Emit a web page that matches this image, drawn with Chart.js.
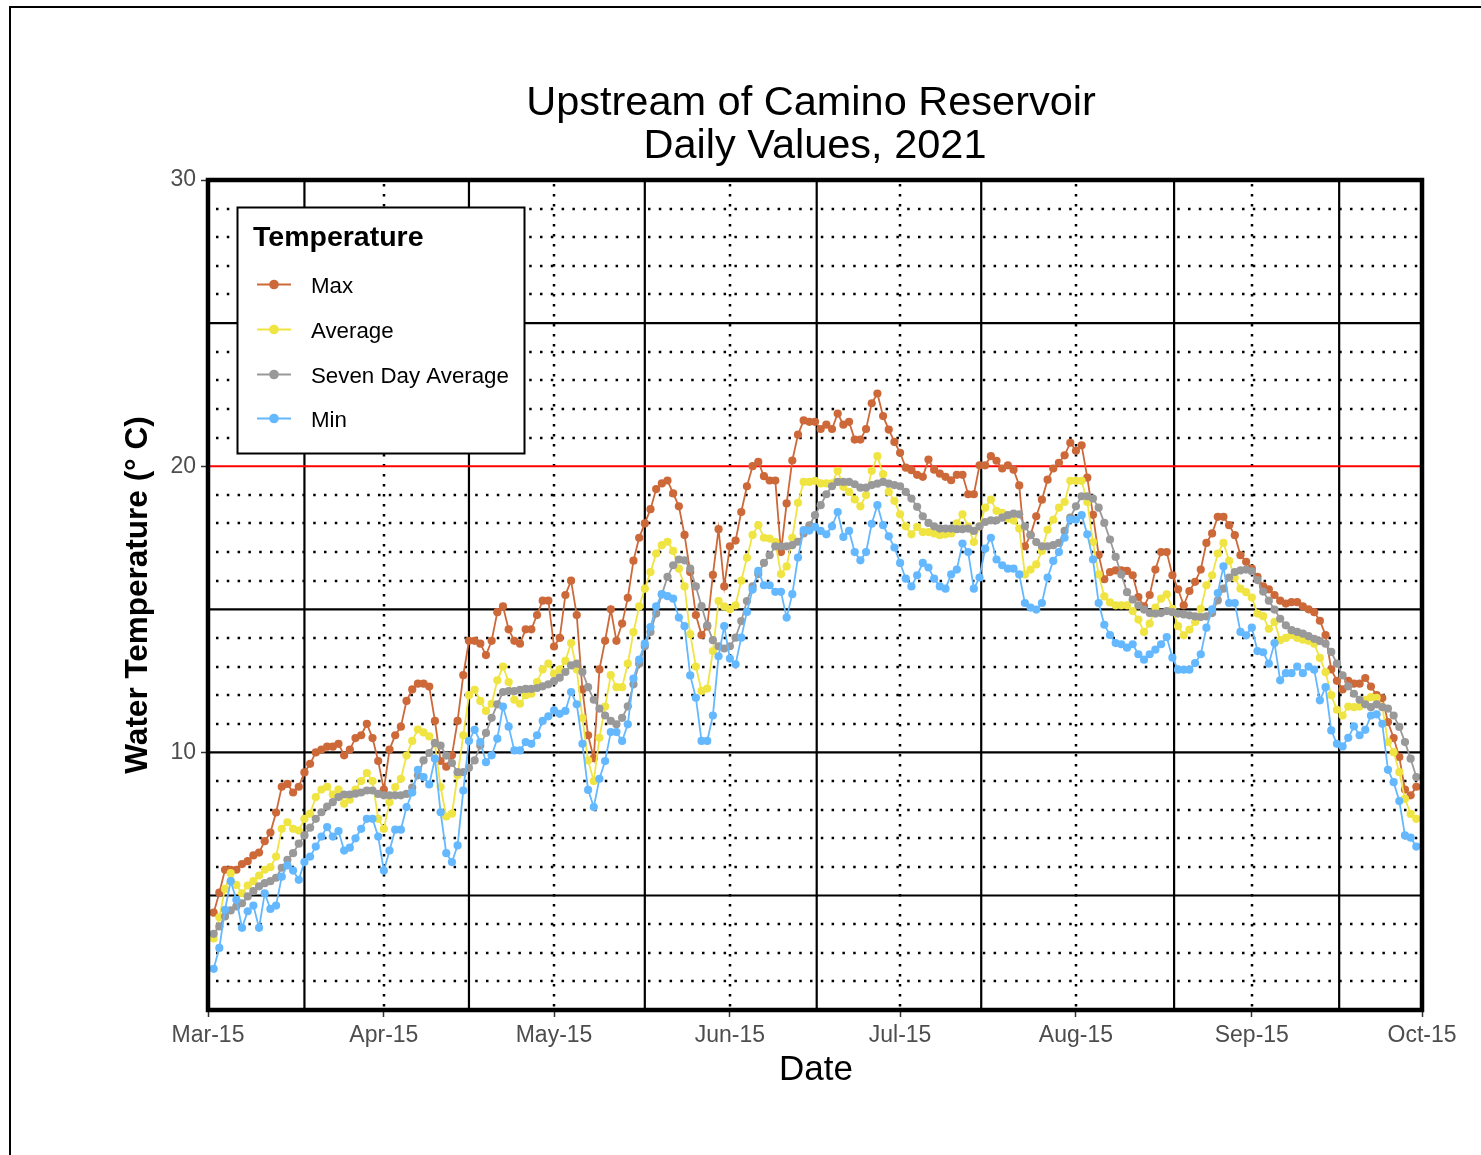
<!DOCTYPE html>
<html>
<head>
<meta charset="utf-8">
<script src="https://cdn.jsdelivr.net/npm/chart.js@4.4.1/dist/chart.umd.min.js"></script>
<style>
html,body{margin:0;padding:0;background:#ffffff;}
canvas{display:block;}
</style>
</head>
<body>
<canvas id="c" width="1481" height="1155"></canvas>
<script>
// ---- data (day index counted from 15 Mar 2021) ----
const tickDays = [0, 31, 61, 92, 122, 153, 184, 214];
const tickLabels = ['Mar-15', 'Apr-15', 'May-15', 'Jun-15', 'Jul-15', 'Aug-15', 'Sep-15', 'Oct-15'];
const solidVLineDays = [17, 46, 77, 107.3, 136.3, 170.3, 199.4];
const seriesNames = ['Max', 'Average', 'Seven Day Average', 'Min'];

const maxTemp = [
 4.4,5.1,5.9,5.9,5.9,6.1,6.2,6.4,6.5,6.9,
 7.2,7.9,8.8,8.9,8.6,8.8,9.3,9.6,10.0,10.1,
 10.2,10.2,10.3,9.9,10.1,10.5,10.6,11.0,10.5,9.7,
 8.7,10.1,10.6,10.9,11.8,12.2,12.4,12.4,12.3,11.1,
 9.7,9.5,9.9,11.1,12.7,13.9,13.9,13.8,13.4,13.9,
 14.9,15.1,14.3,13.9,13.8,14.3,14.3,14.8,15.3,15.3,
 13.7,14.0,15.5,16.0,14.8,12.2,10.6,9.8,12.9,13.9,
 15.0,13.9,14.5,15.4,16.7,17.5,18.0,18.5,19.2,19.4,
 19.5,19.05,18.6,17.6,16.3,14.8,14.1,14.4,16.2,17.8,
 15.8,17.2,17.4,18.4,19.3,20.0,20.15,19.65,19.5,19.5,
 17.0,18.7,20.2,21.1,21.6,21.55,21.55,21.3,21.45,21.3,
 21.84,21.45,21.55,20.93,20.93,21.3,22.2,22.54,21.75,21.28,
 20.85,20.47,19.95,19.86,19.7,19.63,20.23,19.88,19.74,19.63,
 19.51,19.7,19.7,19.02,19.02,20.03,20.03,20.35,20.19,19.92,
 20.03,19.88,19.33,17.2,17.6,18.25,18.83,19.53,19.92,20.12,
 20.38,20.82,20.54,20.73,19.6,18.3,16.9,16.05,16.3,16.36,
 16.36,16.34,16.19,15.43,15.1,15.5,16.39,17.0,17.0,16.19,
 15.7,15.14,15.64,15.96,16.39,17.32,17.65,18.23,18.23,17.94,
 17.59,16.89,16.66,16.42,16.13,15.8,15.7,15.5,15.3,15.2,
 15.25,15.25,15.1,15.0,14.9,14.6,14.1,12.9,12.5,12.2,
 12.5,12.4,12.4,12.6,12.3,12.0,11.9,11.06,10.5,9.84,
 8.7,8.5,8.8
];

const avgTemp = [
 3.5,4.24,5.23,5.78,5.37,5.08,5.35,5.5,5.7,5.9,
 5.99,6.36,7.33,7.56,7.33,7.27,7.68,7.86,8.44,8.7,
 8.8,8.53,8.7,8.21,8.35,8.7,9.0,9.28,9.0,7.68,
 7.33,8.26,8.79,9.08,9.89,10.4,10.8,10.7,10.56,10.3,
 8.79,7.76,7.86,9.2,10.6,12.0,12.19,11.8,11.45,11.7,
 12.52,13.0,12.46,11.84,11.7,12.0,12.05,12.46,12.9,13.1,
 12.75,12.9,13.2,13.82,12.9,11.2,9.72,9.0,10.51,11.6,
 12.7,12.28,12.28,13.1,14.2,15.1,15.72,16.3,16.95,17.24,
 17.36,17.04,16.42,15.8,14.13,13.0,12.15,12.23,13.54,15.29,
 15.1,15.0,15.14,16.0,16.8,17.6,17.94,17.5,17.47,17.36,
 16.23,16.5,17.5,18.72,19.45,19.45,19.49,19.4,19.4,19.4,
 19.84,19.28,19.1,18.84,18.6,18.99,19.84,20.35,19.72,19.1,
 18.79,18.32,17.9,17.62,17.88,17.7,17.7,17.65,17.59,17.62,
 17.65,18.0,18.32,17.9,17.35,17.9,18.55,18.83,18.44,18.37,
 18.17,18.1,17.82,16.22,16.39,16.57,17.04,17.78,18.13,18.55,
 18.75,19.49,19.49,19.49,18.75,17.35,16.22,15.45,15.24,15.14,
 15.14,15.14,14.94,14.64,14.21,14.5,15.06,15.37,15.52,15.02,
 14.41,14.09,14.29,14.56,15.02,15.84,16.19,16.95,17.32,16.69,
 16.11,15.72,15.6,15.41,14.85,14.76,14.32,14.56,13.92,14.0,
 14.1,14.0,13.94,13.9,13.8,13.3,12.8,12.0,11.49,11.29,
 11.6,11.58,11.6,11.84,11.93,11.91,11.6,10.36,10.01,9.31,
 8.38,7.85,7.68
];

const sevenDayAvg = [
 3.66,3.92,4.27,4.48,4.62,4.73,4.97,5.15,5.32,5.43,
 5.5,5.62,5.97,6.25,6.48,6.81,7.1,7.37,7.68,7.91,
 8.11,8.26,8.44,8.53,8.53,8.56,8.6,8.67,8.67,8.55,
 8.5,8.5,8.5,8.5,8.55,8.77,9.2,9.72,9.98,10.33,
 10.24,9.89,9.63,9.31,9.31,9.46,9.72,10.24,10.68,11.21,
 11.68,12.11,12.14,12.14,12.19,12.22,12.22,12.25,12.31,12.38,
 12.49,12.61,12.81,13.04,13.1,12.81,12.28,11.84,11.53,11.29,
 11.1,10.98,11.21,11.61,12.38,13.1,13.71,14.21,14.85,15.52,
 16.13,16.54,16.74,16.71,16.42,15.8,15.11,14.44,13.92,13.71,
 13.63,13.71,14.01,14.59,15.29,15.8,16.23,16.62,16.89,17.2,
 17.2,17.2,17.24,17.36,17.65,17.93,18.29,18.64,19.02,19.3,
 19.45,19.45,19.45,19.37,19.25,19.25,19.34,19.39,19.45,19.39,
 19.34,19.3,19.1,18.87,18.58,18.25,18.02,17.9,17.82,17.82,
 17.82,17.8,17.8,17.82,17.74,17.9,18.05,18.11,18.11,18.2,
 18.29,18.34,18.32,17.9,17.59,17.35,17.2,17.2,17.24,17.32,
 17.74,18.2,18.6,18.95,18.95,18.87,18.55,18.02,17.44,16.83,
 16.22,15.6,15.34,15.14,14.99,14.87,14.85,14.87,14.94,14.9,
 14.85,14.82,14.79,14.75,14.73,14.75,14.87,15.31,15.72,16.11,
 16.3,16.36,16.39,16.33,16.02,15.62,15.3,14.99,14.67,14.44,
 14.27,14.21,14.15,14.06,13.97,13.89,13.8,13.51,13.1,12.69,
 12.31,12.05,11.84,11.68,11.58,11.68,11.58,11.53,11.29,10.89,
 10.36,9.78,9.14
];

const minTemp = [
 2.44,3.17,4.5,5.5,4.85,3.87,4.45,4.65,3.87,5.08,
 4.53,4.65,5.66,6.05,5.87,5.55,6.17,6.36,6.71,7.06,
 7.39,7.06,7.25,6.57,6.67,7.0,7.33,7.68,7.68,7.06,
 5.87,6.57,7.3,7.3,8.09,8.6,9.39,9.14,8.88,9.78,
 7.91,6.48,6.17,6.75,8.67,10.4,10.79,10.36,9.66,9.9,
 10.48,11.6,10.9,10.07,10.07,10.36,10.3,10.6,11.1,11.26,
 11.47,11.35,11.45,12.11,11.68,10.3,8.69,8.09,9.08,9.7,
 10.71,10.71,10.4,10.98,12.58,13.24,13.8,14.38,15.1,15.53,
 15.46,15.37,14.71,14.41,12.69,11.91,10.4,10.4,11.29,13.36,
 14.41,13.28,13.08,14.01,14.91,15.69,16.34,15.84,15.84,15.61,
 15.61,14.71,15.53,16.81,17.77,17.75,17.88,17.74,17.62,17.9,
 18.4,17.53,17.74,17.0,16.71,17.0,17.99,18.64,17.94,17.55,
 17.16,16.62,16.07,15.8,16.19,16.62,16.46,16.07,15.8,15.72,
 16.22,16.39,17.3,17.0,15.72,16.11,17.12,17.5,16.74,16.54,
 16.42,16.42,16.22,15.22,15.06,14.99,15.22,16.11,16.69,17.0,
 17.5,18.13,18.13,18.29,17.62,16.74,15.22,14.46,14.1,13.82,
 13.78,13.66,13.78,13.43,13.24,13.43,13.59,13.78,14.03,13.31,
 12.89,12.89,12.89,13.12,13.43,14.36,15.0,15.57,16.5,15.22,
 15.22,14.21,14.09,14.36,13.54,13.5,13.1,13.82,12.52,12.77,
 12.77,13.0,12.77,13.0,12.89,11.82,12.28,10.77,10.3,10.21,
 10.51,10.91,10.6,10.79,11.29,11.33,11.0,9.39,8.96,8.3,
 7.1,7.02,6.71
];

// ---- styles ----
const colors = ['#CD6839', '#F0E442', '#999999', '#63B8FF'];
const FONT = '"Liberation Sans", Arial, Helvetica, sans-serif';
const seriesData = [maxTemp, avgTemp, sevenDayAvg, minTemp];

function toPoints(arr) { return arr.map((v, i) => ({ x: i + 1, y: v })); }

const datasets = seriesData.map((arr, k) => ({
  label: seriesNames[k],
  data: toPoints(arr),
  borderColor: colors[k],
  backgroundColor: colors[k],
  borderWidth: 1.8,
  pointRadius: 4.1,
  pointBorderWidth: 0,
  pointHoverRadius: 4.1,
  tension: 0,
  order: 4 - k
}));

const decorPlugin = {
  id: 'decor',
  beforeDraw(chart) {
    const ctx = chart.ctx;
    ctx.save();
    ctx.fillStyle = '#ffffff';
    ctx.fillRect(0, 0, chart.width, chart.height);
    ctx.strokeStyle = '#000000';
    ctx.lineWidth = 2;
    ctx.beginPath();
    ctx.moveTo(10, chart.height);
    ctx.lineTo(10, 7);
    ctx.lineTo(chart.width, 7);
    ctx.stroke();
    ctx.restore();
  },
  beforeDatasetsDraw(chart) {
    const { ctx, chartArea: a, scales: { x, y } } = chart;
    ctx.save();
    ctx.beginPath();
    ctx.rect(a.left, a.top, a.right - a.left, a.bottom - a.top);
    ctx.clip();
    ctx.strokeStyle = '#000000';
    // dotted horizontal
    ctx.lineWidth = 2.5;
    ctx.setLineDash([2.5, 8.3]);
    for (let v = 2; v < 30; v++) {
      if (v % 5 === 0) continue;
      const py = Math.round(y.getPixelForValue(v));
      ctx.beginPath();
      ctx.moveTo(a.left + 8, py);
      ctx.lineTo(a.right, py);
      ctx.stroke();
    }
    // dotted vertical at labelled ticks
    ctx.setLineDash([2.5, 7.5]);
    for (const d of tickDays.slice(1, -1)) {
      const px = Math.round(x.getPixelForValue(d));
      ctx.beginPath();
      ctx.moveTo(px, a.top + 4);
      ctx.lineTo(px, a.bottom);
      ctx.stroke();
    }
    // solid lines
    ctx.setLineDash([]);
    ctx.lineWidth = 2.2;
    for (const v of [5, 10, 15, 25]) {
      const py = y.getPixelForValue(v);
      ctx.beginPath();
      ctx.moveTo(a.left, py);
      ctx.lineTo(a.right, py);
      ctx.stroke();
    }
    for (const d of solidVLineDays) {
      const px = x.getPixelForValue(d);
      ctx.beginPath();
      ctx.moveTo(px, a.top);
      ctx.lineTo(px, a.bottom);
      ctx.stroke();
    }
    // reference line at 20
    ctx.strokeStyle = '#FF0000';
    ctx.lineWidth = 2;
    const p20 = y.getPixelForValue(20);
    ctx.beginPath();
    ctx.moveTo(a.left, p20);
    ctx.lineTo(a.right, p20);
    ctx.stroke();
    ctx.restore();
  },
  afterDatasetsDraw(chart) {
    const { ctx, chartArea: a } = chart;
    ctx.save();
    // legend box
    const lx = 237.5, ly = 207.5, lw = 287, lh = 246;
    ctx.fillStyle = '#ffffff';
    ctx.fillRect(lx, ly, lw, lh);
    ctx.strokeStyle = '#000000';
    ctx.lineWidth = 2;
    ctx.strokeRect(lx, ly, lw, lh);
    ctx.fillStyle = '#000000';
    ctx.font = 'bold 28.5px ' + FONT;
    ctx.textAlign = 'left';
    ctx.textBaseline = 'alphabetic';
    ctx.fillText('Temperature', 253, 246);
    const rows = [284.5, 329.5, 374.5, 418.5];
    ctx.font = '22.3px ' + FONT;
    seriesNames.forEach((name, k) => {
      const cy = rows[k];
      ctx.strokeStyle = colors[k];
      ctx.lineWidth = 2.2;
      ctx.beginPath();
      ctx.moveTo(257, cy);
      ctx.lineTo(291, cy);
      ctx.stroke();
      ctx.fillStyle = colors[k];
      ctx.beginPath();
      ctx.arc(274, cy, 4.8, 0, Math.PI * 2);
      ctx.fill();
      ctx.fillStyle = '#000000';
      ctx.fillText(name, 311, cy + 8);
    });
    // panel border
    ctx.strokeStyle = '#000000';
    ctx.lineWidth = 4.5;
    ctx.strokeRect(a.left, a.top, a.right - a.left, a.bottom - a.top);
    ctx.restore();
  },
  afterDraw(chart) {
    const { ctx, chartArea: a } = chart;
    const cx = (a.left + a.right) / 2;
    ctx.save();
    ctx.fillStyle = '#000000';
    ctx.textAlign = 'center';
    ctx.textBaseline = 'alphabetic';
    ctx.font = '41.5px ' + FONT;
    ctx.fillText('Upstream of Camino Reservoir', cx - 4, 115);
    ctx.fillText('Daily Values, 2021', cx, 158);
    ctx.font = '35px ' + FONT;
    ctx.fillText('Date', cx + 1, 1080);
    ctx.translate(138, (a.top + a.bottom) / 2);
    ctx.rotate(-Math.PI / 2);
    ctx.font = 'bold 31.5px ' + FONT;
    ctx.textBaseline = 'middle';
    ctx.fillText('Water Temperature (\u00B0 C)', 0, 0);
    ctx.restore();
  }
};

new Chart(document.getElementById('c'), {
  type: 'line',
  data: { datasets },
  options: {
    responsive: false,
    animation: false,
    devicePixelRatio: 1,
    layout: { padding: { left: 150, top: 180, right: 59, bottom: 100 } },
    plugins: { legend: { display: false }, title: { display: false }, tooltip: { enabled: false } },
    scales: {
      x: {
        type: 'linear',
        min: 0,
        max: 214,
        afterBuildTicks: (s) => { s.ticks = tickDays.map(v => ({ value: v })); },
        afterFit: (s) => { s.height = 45; s.paddingLeft = 0; s.paddingRight = 0; },
        ticks: {
          autoSkip: false,
          maxRotation: 0,
          padding: 5,
          color: '#4D4D4D',
          font: { family: FONT, size: 23 },
          callback: (v) => { const i = tickDays.indexOf(v); return i >= 0 ? tickLabels[i] : ''; }
        },
        grid: { drawOnChartArea: false, drawTicks: true, tickLength: 7, tickColor: '#333333', tickWidth: 1.5 },
        border: { display: false }
      },
      y: {
        min: 1,
        max: 30,
        afterBuildTicks: (s) => { s.ticks = [10, 20, 30].map(v => ({ value: v })); },
        afterFit: (s) => { s.width = 58; s.paddingTop = 0; s.paddingBottom = 0; },
        ticks: {
          padding: 5,
          color: '#4D4D4D',
          font: { family: FONT, size: 23 }
        },
        grid: { drawOnChartArea: false, drawTicks: true, tickLength: 7, tickColor: '#333333', tickWidth: 1.5 },
        border: { display: false }
      }
    }
  },
  plugins: [decorPlugin]
});
</script>
</body>
</html>
